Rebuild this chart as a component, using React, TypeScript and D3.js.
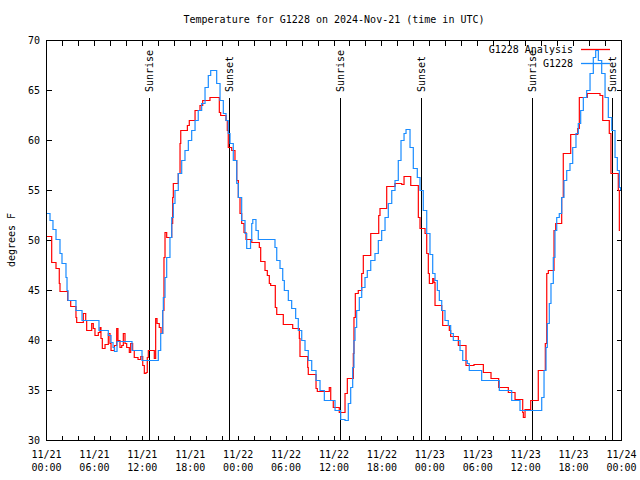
import React, { useEffect } from 'react';
import * as d3 from 'd3';

const TITLE = 'Temperature for G1228 on 2024-Nov-21 (time in UTC)';
const Y_LABEL = 'degrees F';
const START_ISO = '2024-11-21T00:00:00Z';
const END_ISO = '2024-11-24T00:00:00Z';
const yTickValues = [30, 35, 40, 45, 50, 55, 60, 65, 70];

const seriesNames = ['G1228 Analysis', 'G1228'];
const seriesColors = ['#ff0000', '#1a8cff'];

// hours since 2024-11-21 00:00 UTC
const analysisHours = [0,0.65,1.19,1.6,1.69,2.65,3.03,3.69,3.78,4.61,4.91,5.03,5.66,5.86,6.07,6.49,6.7,6.82,6.99,7.33,7.74,7.95,8.08,8.51,8.79,8.95,9.2,9.42,9.62,9.83,10.04,10.37,10.54,10.79,10.99,11.46,11.8,12.05,12.25,12.46,12.62,12.75,13.5,13.67,13.84,14.12,14.34,14.55,14.71,14.84,15.05,15.68,15.8,15.88,16.5,16.72,16.81,17.64,17.88,18.6,19.22,19.56,20.47,21.64,21.81,22.48,22.64,22.76,23.19,23.6,23.82,24.02,24.23,24.44,24.73,24.98,25.7,26.65,26.82,27.36,27.65,27.9,28.07,28.65,28.83,29.65,30.83,31.66,31.74,32.71,32.78,33.75,33.91,35.41,35.59,35.91,36.66,37.38,37.67,38.42,38.5,38.67,39.04,39.47,39.67,40.6,41.6,41.76,42.6,43.64,44.48,44.77,45.61,46.56,46.77,47.4,47.61,47.81,47.94,48.36,48.52,48.65,49.49,49.61,50.44,50.61,51.57,52.53,53.53,54.7,55.66,56.62,57.83,58.67,59.63,59.71,59.92,60.63,61.58,62.46,62.64,62.84,63.55,63.76,64.51,64.71,65.64,66.52,66.72,67.72,69.31,69.65,70.47,70.68,71.6,71.73,71.81];
const analysisTemps = [50.4,47.8,47.2,45.7,44.9,44,43.4,42.3,41.8,42.7,42,41,41.7,41.2,40.5,40.8,41.3,40.2,39.2,39.6,40.7,39.7,39,39.5,41.2,40,39.3,39.5,40.7,39.7,39.3,38.8,39.7,39,38.3,38.1,38.4,37.5,36.7,36.8,38.3,39,38.2,42.2,41.7,41.3,40.7,43,48.3,50.8,50.3,51.7,54.3,55.7,56.7,59.7,61,61.5,62,63,63.5,64,64.3,62.8,62.5,62,61,59.3,59,58,56,54.3,52.7,51.7,50.8,50.1,49.8,49.3,47.9,47,46.5,45.7,45.5,43.3,42.6,41.6,41.2,40.2,38.4,37.3,36.6,35.2,34.9,35.3,34,33.3,32.8,34.7,36.2,38.7,42.3,44.7,45,46.7,48.5,50.7,52.5,53.2,55.4,55.7,55.6,56.4,55.5,52.3,51.2,50.7,48.7,46.7,45.7,46.2,45.8,43.5,43,41.5,41,40.4,39.5,37.5,37.6,36.8,36.2,35.3,34.8,34.1,32.8,32.3,33.1,34,37,39.7,46.7,47,51,51.7,54.3,58.7,60.6,61.2,64.3,64.7,64.5,62,60.7,56.7,55,51,51];

const stationHours = [0,0.44,0.81,1.19,1.69,1.94,2.44,2.57,2.69,3.69,4.45,6.57,7.74,8.08,8.33,8.51,8.83,10.71,11.96,13.77,14.0,14.3,14.55,14.63,14.84,15.05,15.46,15.68,15.88,16.09,16.5,16.93,17.34,17.76,18.18,18.6,19.0,19.43,19.85,20.26,20.56,20.97,21.31,21.73,22.14,22.48,22.76,22.98,23.39,23.82,24.02,24.44,24.86,25.07,25.36,25.55,25.7,25.83,26.03,26.23,26.52,28.27,28.61,28.83,29.24,29.58,29.78,30.28,30.7,31.2,31.53,31.96,32.37,32.78,33.21,33.75,34.25,34.79,35.91,36.13,36.66,36.84,37.38,37.79,38.09,38.34,38.5,38.63,38.84,39.17,39.47,39.88,40.17,40.6,41.13,41.55,41.97,42.39,42.8,43.23,43.64,44.05,44.39,44.77,45.02,45.52,45.93,46.43,46.77,47.18,47.61,48.02,48.36,48.65,48.94,49.19,49.49,49.9,50.31,50.61,50.94,51.44,51.78,52.12,52.69,52.94,54.19,54.49,56.5,56.7,58.04,58.25,59.0,59.29,61.71,62.01,62.3,62.55,62.71,62.96,63.17,63.46,63.67,63.89,64.21,64.51,64.8,65.14,65.55,65.89,66.3,66.59,66.89,67.22,67.64,68.06,68.47,68.77,69.1,69.52,69.94,70.35,70.78,71.19,71.48,71.73,71.88];
const stationTemps = [52.7,52,51.1,50.1,48.7,47.7,46.3,45,44,43,42,41,40.5,39.8,39.3,38.9,39.9,39,38,38,39,40.7,43,44.3,46.3,48.3,50.3,52.3,53.7,55,56.7,58,59,60,61,62,63,63.7,65.3,66.5,67,67,65.7,64,62.7,62,60.7,59.7,58,55.7,54.3,52,50.7,49.2,49.2,50,51.7,52.1,52.1,51,50.1,50.1,49.3,48,47.2,46,45,44,43.2,42.2,41,40,39,38,37,36,35,34,34,33,33,32.1,32,33.7,35.3,37.3,40,41.3,43,44.3,45.3,46.3,47,48,48.7,50,51,52.3,53.7,55,56,58,60,60.7,61.1,59.3,57.2,56.3,55,53,50.7,48.6,46.7,46,45,44,43,42,41.5,40.7,40,40,39,38,37.7,37,37,36,36,35,35,34,34,33,33,34.3,37,39.3,41.7,43.7,45.7,48.3,51,52.3,52.7,54.3,56,57,57.7,59.3,60.7,61.7,63,64.3,65,66.7,68.3,69,68,66.7,64.3,62.3,61,58.3,57,55.3,55];

const sunriseTimes = ['2024-11-21T12:52:00Z', '2024-11-22T12:51:00Z', '2024-11-23T12:51:00Z'];
const sunsetTimes = ['2024-11-21T22:54:00Z', '2024-11-22T22:55:00Z', '2024-11-23T22:52:00Z'];

const FONT = '"DejaVu Sans Mono", "Liberation Mono", monospace';

export default function App() {
  useEffect(() => {
    document.body.style.margin = '0';
  }, []);

  const start = new Date(START_ISO);
  const end = new Date(END_ISO);
  const x = d3.scaleUtc().domain([start, end]).range([46.5, 621.5]);
  const y = d3.scaleLinear().domain([30, 70]).range([440.5, 40.5]);

  const toDate = (h: number) => new Date(start.getTime() + h * 3600000);
  const analysis = analysisHours.map((h, i) => ({ t: toDate(h), v: analysisTemps[i] }));
  const station = stationHours.map((h, i) => ({ t: toDate(h), v: stationTemps[i] }));

  const line = d3
    .line<{ t: Date; v: number }>()
    .x((d) => x(d.t))
    .y((d) => y(d.v))
    .curve(d3.curveStepAfter);

  const xMinor = x.ticks(d3.utcHour.every(2) as any);
  const xMajor = x.ticks(d3.utcHour.every(6) as any);
  const fmtDate = d3.utcFormat('%m/%d');
  const fmtTime = d3.utcFormat('%H:%M');

  const left = 46.5, right = 621.5, top = 40.5, bottom = 440.5;
  const tick = 5;

  const markers = [
    ...sunriseTimes.map((s) => ({ t: new Date(s), label: 'Sunrise' })),
    ...sunsetTimes.map((s) => ({ t: new Date(s), label: 'Sunset' })),
  ];

  const legendY = [49.5, 63.5];

  return (
    <svg width={640} height={480} style={{ position: 'absolute', left: 0, top: 0, background: '#fff' }} fontFamily={FONT} fontSize={10}>
      <rect x={0} y={0} width={640} height={480} fill="#fff" />
      <text x={334} y={23} textAnchor="middle" fill="#000">{TITLE}</text>

      {/* y ticks */}
      {yTickValues.map((v) => (
        <g key={'y' + v}>
          <line x1={left} x2={left + tick} y1={Math.round(y(v) - 0.5) + 0.5} y2={Math.round(y(v) - 0.5) + 0.5} stroke="#000" shapeRendering="crispEdges" />
          <line x1={right} x2={right - tick} y1={Math.round(y(v) - 0.5) + 0.5} y2={Math.round(y(v) - 0.5) + 0.5} stroke="#000" shapeRendering="crispEdges" />
          <text x={40} y={y(v)} dy="0.35em" textAnchor="end" fill="#000">{v}</text>
        </g>
      ))}

      {/* x ticks */}
      {xMinor.map((d, i) => {
        const px = Math.round(x(d) - 0.5) + 0.5;
        return (
          <g key={'xm' + i}>
            <line x1={px} x2={px} y1={bottom} y2={bottom - tick} stroke="#000" shapeRendering="crispEdges" />
            <line x1={px} x2={px} y1={top} y2={top + tick} stroke="#000" shapeRendering="crispEdges" />
          </g>
        );
      })}
      {xMajor.map((d, i) => (
        <g key={'xl' + i}>
          <text x={x(d)} y={457.5} textAnchor="middle" fill="#000">{fmtDate(d)}</text>
          <text x={x(d)} y={471} textAnchor="middle" fill="#000">{fmtTime(d)}</text>
        </g>
      ))}

      <text transform={`translate(11,240) rotate(-90)`} dy="0.35em" textAnchor="middle" fill="#000">{Y_LABEL}</text>

      {/* sunrise / sunset markers */}
      {markers.map((m, i) => {
        const px = Math.round(x(m.t) - 0.5) + 0.5;
        return (
          <g key={'m' + i}>
            <line x1={px} x2={px} y1={98} y2={bottom} stroke="#000" shapeRendering="crispEdges" />
            <text transform={`translate(${px},92) rotate(-90)`} dy="0.35em" textAnchor="start" fill="#000">{m.label}</text>
          </g>
        );
      })}

      {/* legend text */}
      {seriesNames.map((n, i) => (
        <text key={'lt' + i} x={573} y={legendY[i]} dy="0.35em" textAnchor="end" fill="#000">{n}</text>
      ))}

      {/* series 1 */}
      <line x1={581} x2={610} y1={legendY[0]} y2={legendY[0]} stroke={seriesColors[0]} strokeWidth={1.3} />
      <path d={line(analysis) || ''} fill="none" stroke={seriesColors[0]} strokeWidth={1.2} />
      {/* series 2 */}
      <line x1={581} x2={610} y1={legendY[1]} y2={legendY[1]} stroke={seriesColors[1]} strokeWidth={1.3} />
      <path d={line(station) || ''} fill="none" stroke={seriesColors[1]} strokeWidth={1.2} />

      {/* frame */}
      <rect x={left} y={top} width={right - left} height={bottom - top} fill="none" stroke="#000" shapeRendering="crispEdges" />
    </svg>
  );
}
